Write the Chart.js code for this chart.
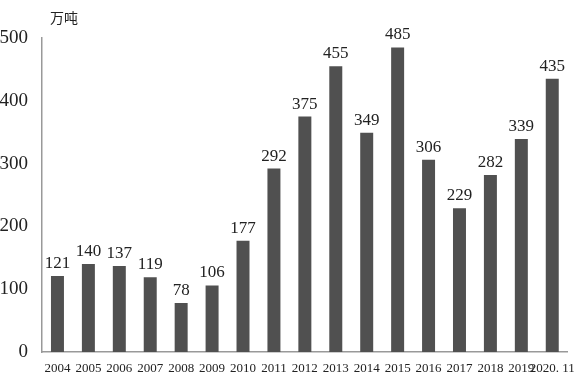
<!DOCTYPE html>
<html><head><meta charset="utf-8">
<script src="https://cdn.jsdelivr.net/npm/chart.js@4/dist/chart.umd.min.js"></script>
<style>html,body{margin:0;padding:0;background:#fff}#wrap{width:584px;height:385px;position:relative}</style>
</head><body><div id="wrap"><canvas id="c" width="584" height="385"></canvas></div>
<script>
const categories = ["2004","2005","2006","2007","2008","2009","2010","2011","2012","2013","2014","2015","2016","2017","2018","2019","2020. 11"];
const values = [121,140,137,119,78,106,177,292,375,455,349,485,306,229,282,339,435];
const yTicks = [0,100,200,300,400,500];
const unitLabel = "万吨";

const labelPlugin = {
  id: 'labels',
  afterDatasetsDraw(chart) {
    const ctx = chart.ctx;
    const meta = chart.getDatasetMeta(0);
    ctx.save();
    ctx.fillStyle = '#222';
    ctx.font = '17px "Liberation Serif", serif';
    ctx.textAlign = 'center';
    ctx.textBaseline = 'alphabetic';
    meta.data.forEach((bar, i) => {
      ctx.fillText(String(values[i]), bar.x, bar.y - 8);
    });
    ctx.font = '14px "Noto Sans CJK SC", sans-serif';
    ctx.textAlign = 'left';
    ctx.textBaseline = 'middle';
    ctx.fillText(unitLabel, chart.chartArea.left + 8, 18);
    ctx.restore();
  }
};

new Chart(document.getElementById('c'), {
  type: 'bar',
  data: { labels: categories, datasets: [{ data: values, backgroundColor: '#505050', barPercentage: 0.42, categoryPercentage: 1.0 }] },
  options: {
    responsive: false, animation: false,
    layout: { padding: { top: 38, right: 8, left: 0, bottom: 0 } },
    plugins: { legend: { display: false }, tooltip: { enabled: false } },
    scales: {
      x: {
        grid: { display: false, drawTicks: false },
        border: { color: '#999', width: 1.5 },
        ticks: { autoSkip: false, maxRotation: 0, minRotation: 0, padding: 9, color: '#222', font: { size: 13, family: '"Liberation Serif", serif' } },
        afterFit(s) { s.height = 33; }
      },
      y: {
        min: 0, max: 500,
        grid: { display: false, drawTicks: false },
        border: { color: '#999', width: 1.5 },
        afterBuildTicks(s) { s.ticks = yTicks.map(v => ({ value: v })); },
        ticks: { padding: 14, color: '#222', font: { size: 19, family: '"Liberation Serif", serif' } },
        afterFit(s) { s.width = 42; }
      }
    }
  },
  plugins: [labelPlugin]
});
</script></body></html>
